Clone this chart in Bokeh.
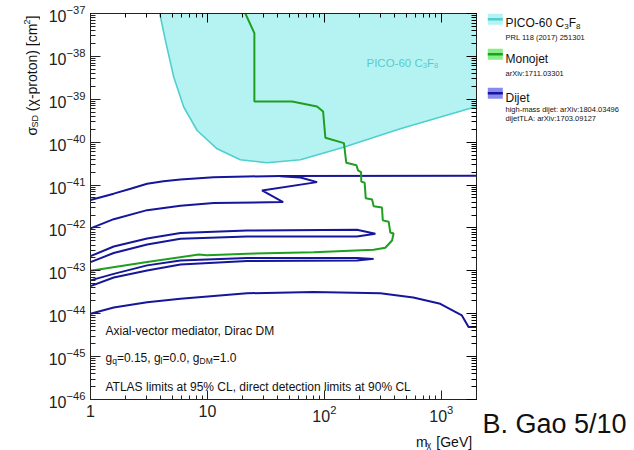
import math
from bokeh.plotting import figure
from bokeh.models import (LogAxis, Range1d, Label, LogTicker, LogTickFormatter,
                          CustomJSTickFormatter)
from bokeh.layouts import row, column
from bokeh.embed import file_html
from bokeh.resources import INLINE
from bokeh.core.properties import value

# ---------------- data ----------------
X_MIN, X_MAX = 1, 2000
Y_MIN, Y_MAX = 1e-46, 1e-37

pico_mass = [3.91, 4.38, 5.15, 6.27, 8.17, 12.1, 19.1, 32.4, 62.4, 146, 446, 2000]
pico_xsec = [1e-37, 2.3e-38, 3.3e-39, 6.6e-40, 1.87e-40, 7.0e-41, 3.9e-41,
             3.3e-41, 3.9e-41, 7.6e-41, 2.05e-40, 6.8e-40]

mono_mass = [1, 3.05, 8.43, 9.9, 21.8, 81, 264, 332, 379, 391, 366, 355, 316, 311,
             264, 256, 226, 221, 207, 206, 194, 188, 154, 147, 102, 97.5, 86.6,
             53, 25.2, 25.2, 21.1]
mono_xsec = [1.0e-43, 1.6e-43, 2.4e-43, 2.3e-43, 2.5e-43, 2.7e-43, 3.1e-43, 3.45e-43,
             5.1e-43, 7.4e-43, 7.85e-43, 1.39e-42, 1.5e-42, 3.0e-42, 3.2e-42, 4.6e-42,
             4.9e-42, 1.13e-41, 1.2e-41, 2.0e-41, 2.2e-41, 2.9e-41, 3.3e-41, 9.5e-41,
             1.27e-40, 5.2e-40, 6.8e-40, 8.9e-40, 8.9e-40, 3.5e-38, 1e-37]

dijet1_mass = [1, 1.58, 2.20, 3.05, 4.21, 5.88, 11.3, 21.5, 42, 2000]
dijet1_xsec = [4.5e-42, 6.3e-42, 8.2e-42, 1.07e-41, 1.23e-41, 1.35e-41, 1.52e-41,
               1.58e-41, 1.63e-41, 1.65e-41]

dijet2_mass = [42, 62.4, 86.6, 29.3, 44.4, 11.3, 5.88, 3.05, 1.58, 1]
dijet2_xsec = [1.6e-41, 1.5e-41, 1.17e-41, 7.5e-42, 4.0e-42, 3.8e-42, 3.3e-42,
               2.6e-42, 1.6e-42, 9.8e-43]

dijet3_mass = [1, 1.58, 3.05, 5.88, 21.8, 190, 273, 190, 21.8, 5.88, 3.05, 1.58, 1]
dijet3_xsec = [2.2e-43, 3.7e-43, 5.7e-43, 7.6e-43, 8.7e-43, 9.1e-43, 7.3e-43, 6.3e-43,
               6.3e-43, 5.6e-43, 4.1e-43, 2.6e-43, 1.6e-43]

dijet4_mass = [1, 1.58, 3.05, 5.88, 21.8, 190, 264, 190, 21.8, 5.88, 3.05, 1.58, 1]
dijet4_xsec = [6.0e-44, 8.5e-44, 1.34e-43, 1.75e-43, 2.0e-43, 2.0e-43, 1.9e-43,
               1.75e-43, 1.7e-43, 1.4e-43, 1.02e-43, 7.0e-44, 4.4e-44]

dijet5_mass = [1, 1.58, 3.05, 5.88, 21.8, 80.5, 301, 576, 980, 1500, 1710, 2000]
dijet5_xsec = [1.0e-44, 1.4e-44, 1.86e-44, 2.24e-44, 3.0e-44, 3.2e-44, 3.0e-44,
               2.4e-44, 1.7e-44, 9.1e-45, 4.9e-45, 4.9e-45]

# ---------------- styles ----------------
FONT = "Liberation Sans"
PICO_FILL = "#b5f3f3"
PICO_LINE = "#4fcfcf"
GREEN = "#1f9f1f"
NAVY = "#16169a"
TXT = "#111111"
AXC = "#222222"

p = figure(width=440, height=425, x_axis_type="log", y_axis_type="log",
           x_range=Range1d(X_MIN, X_MAX), y_range=Range1d(Y_MIN, Y_MAX),
           output_backend="svg", toolbar_location=None,
           min_border_left=50, min_border_right=4, min_border_top=13,
           min_border_bottom=26)
p.grid.visible = False
p.outline_line_color = AXC
p.outline_line_width = 1
p.background_fill_color = "white"

p.xaxis.ticker = LogTicker(num_minor_ticks=10)
p.yaxis.ticker = LogTicker(num_minor_ticks=10)
p.xaxis.formatter = LogTickFormatter(min_exponent=1)
p.xaxis.major_label_overrides = {10: "10"}
for ax, mj, mn in ((p.xaxis, 9, 4), (p.yaxis, 10, 5)):
    ax.major_tick_in = mj
    ax.major_tick_out = 0
    ax.minor_tick_in = mn
    ax.minor_tick_out = 0
    ax.major_label_text_font = FONT
    ax.major_label_text_font_size = "16px"
    ax.major_label_text_color = AXC
    ax.axis_line_color = AXC
    ax.major_tick_line_color = AXC
    ax.minor_tick_line_color = AXC
    ax.major_label_standoff = 5

blank = CustomJSTickFormatter(code="return ''")
top = LogAxis(ticker=LogTicker(num_minor_ticks=10), formatter=blank,
              major_tick_in=9, major_tick_out=0, minor_tick_in=4, minor_tick_out=0,
              major_label_standoff=0, axis_line_color=AXC)
right = LogAxis(ticker=LogTicker(num_minor_ticks=10), formatter=blank,
                major_tick_in=10, major_tick_out=0, minor_tick_in=5, minor_tick_out=0,
                major_label_standoff=0, axis_line_color=AXC)
p.add_layout(top, "above")
p.add_layout(right, "right")

# PICO region
p.patch(pico_mass + [pico_mass[-1], pico_mass[0]], pico_xsec + [Y_MAX, Y_MAX],
        fill_color=PICO_FILL, line_color=None)
p.line(pico_mass, pico_xsec, line_color=PICO_LINE, line_width=1.6)

# Dijet contours
for xs, ys in ((dijet1_mass, dijet1_xsec), (dijet2_mass, dijet2_xsec),
               (dijet3_mass, dijet3_xsec), (dijet4_mass, dijet4_xsec),
               (dijet5_mass, dijet5_xsec)):
    p.line(xs, ys, line_color=NAVY, line_width=2)

# Monojet
p.line(mono_mass, mono_xsec, line_color=GREEN, line_width=2)


def lab(fig, x, y, text, size, color=TXT):
    fig.add_layout(Label(x=x, y=y, x_units="screen", y_units="screen", text=text,
                         text_font=FONT, text_font_size=f"{size}px", text_color=color,
                         text_align="left", text_baseline="alphabetic"))


# in-plot texts (frame-relative screen coordinates)
lab(p, 15, 68.5, "Axial-vector mediator, Dirac DM", 12)
parts = [("g", 12, 0), ("q", 8.5, -3), ("=0.15, g", 12, 0), ("l", 8.5, -3),
         ("=0.0, g", 12, 0), ("DM", 8.5, -3), ("=1.0", 12, 0)]
widths = {"g": 0.556, "q": 0.556, "=0.15, g": 3.642, "l": 0.222, "=0.0, g": 3.086,
          "DM": 1.555, "=1.0": 1.974}
xx = 15
for t, s, dy in parts:
    lab(p, xx, 42 + dy, t, s)
    xx += widths[t] * s
lab(p, 15, 13, "ATLAS limits at 95% CL, direct detection limits at 90% CL", 12)

# PICO in-plot label
xx = 276
for t, s, dy, w in (("PICO-60 C", 11.5, 0, 4.89), ("3", 7.5, -3, 0.556),
                    ("F", 11.5, 0, 0.611), ("8", 7.5, -3, 0.556)):
    lab(p, xx, 337 + dy, t, s, color="#55cccc")
    xx += w * s


def strip(width, height, flip=True):
    f = figure(width=width, height=height, x_range=Range1d(0, width),
               y_range=Range1d(height, 0) if flip else Range1d(0, height),
               output_backend="svg", toolbar_location=None, min_border=0)
    f.axis.visible = False
    f.grid.visible = False
    f.outline_line_color = None
    return f


def gtxt(fig, x, y, t, s, color=TXT, angle=0.0, align="left"):
    fig.text(x=[x], y=[y], text=[t], text_font=value(FONT), text_font_size=f"{s}px",
             text_color=color, text_baseline="alphabetic", text_align=align,
             angle=angle)


# ---------------- y-axis title panel (left) ----------------
lf_y = strip(40, 450, flip=False)
yy = 450 - 135
for t, s, dx, w, lead in (("\u03c3", 14, 0, 0.57, 0), ("SD", 9, 3, 1.389, 0),
                          ("(\u03c7-proton) [cm", 14, 0, 6.181, 0.278),
                          ("2", 9, -5, 0.556, 0), ("]", 14, 0, 0.278, 0)):
    yy += lead * s
    gtxt(lf_y, 31 + dx, yy, t, s, angle=math.pi / 2)
    yy += w * s

# ---------------- x-axis title panel (below) ----------------
bx = strip(440, 25)
gtxt(bx, 435, 16, "[GeV]", 14, align="right")
gtxt(bx, 383, 19, "\u03c7", 9)
gtxt(bx, 371, 16, "m", 14)

# ---------------- legend panel ----------------
lf = figure(width=154, height=450, x_range=Range1d(480, 634), y_range=Range1d(450, 0),
            output_backend="svg", toolbar_location=None, min_border=0)
lf.axis.visible = False
lf.grid.visible = False
lf.outline_line_color = None

sw_fill = [PICO_FILL, "#86ee86", "#8a8aee"]
sw_line = [PICO_LINE, GREEN, NAVY]
sw_y = [18.7, 53.8, 92.8]
lf.quad(left=487.3, right=502.3, top=[y - 5.5 for y in sw_y], bottom=[y + 5.5 for y in sw_y],
        fill_color=sw_fill, line_color=None)
for y, c in zip(sw_y, sw_line):
    lf.line([487.3, 502.3], [y, y], line_color=c, line_width=2.5)

xx = 505
for t, s, dy, w in (("PICO-60 C", 12, 0, 4.89), ("3", 8, 3, 0.556),
                    ("F", 12, 0, 0.611), ("8", 8, 3, 0.556)):
    gtxt(lf, xx, 22.8 + dy, t, s)
    xx += w * s
gtxt(lf, 505, 37, "PRL 118 (2017) 251301", 7.5)
gtxt(lf, 505, 58.5, "Monojet", 12)
gtxt(lf, 505, 72.7, "arXiv:1711.03301", 7.5)
gtxt(lf, 505, 97.5, "Dijet", 12)
gtxt(lf, 505, 108.7, "high-mass dijet: arXiv:1804.03496", 7.5)
gtxt(lf, 505, 117.7, "dijetTLA: arXiv:1703.09127", 7.5)
gtxt(lf, 482, 423, "B. Gao 5/10", 27)

layout = row(lf_y, column(p, bx, spacing=0), lf, spacing=0)
open("out.html", "w").write(file_html(layout, INLINE))
